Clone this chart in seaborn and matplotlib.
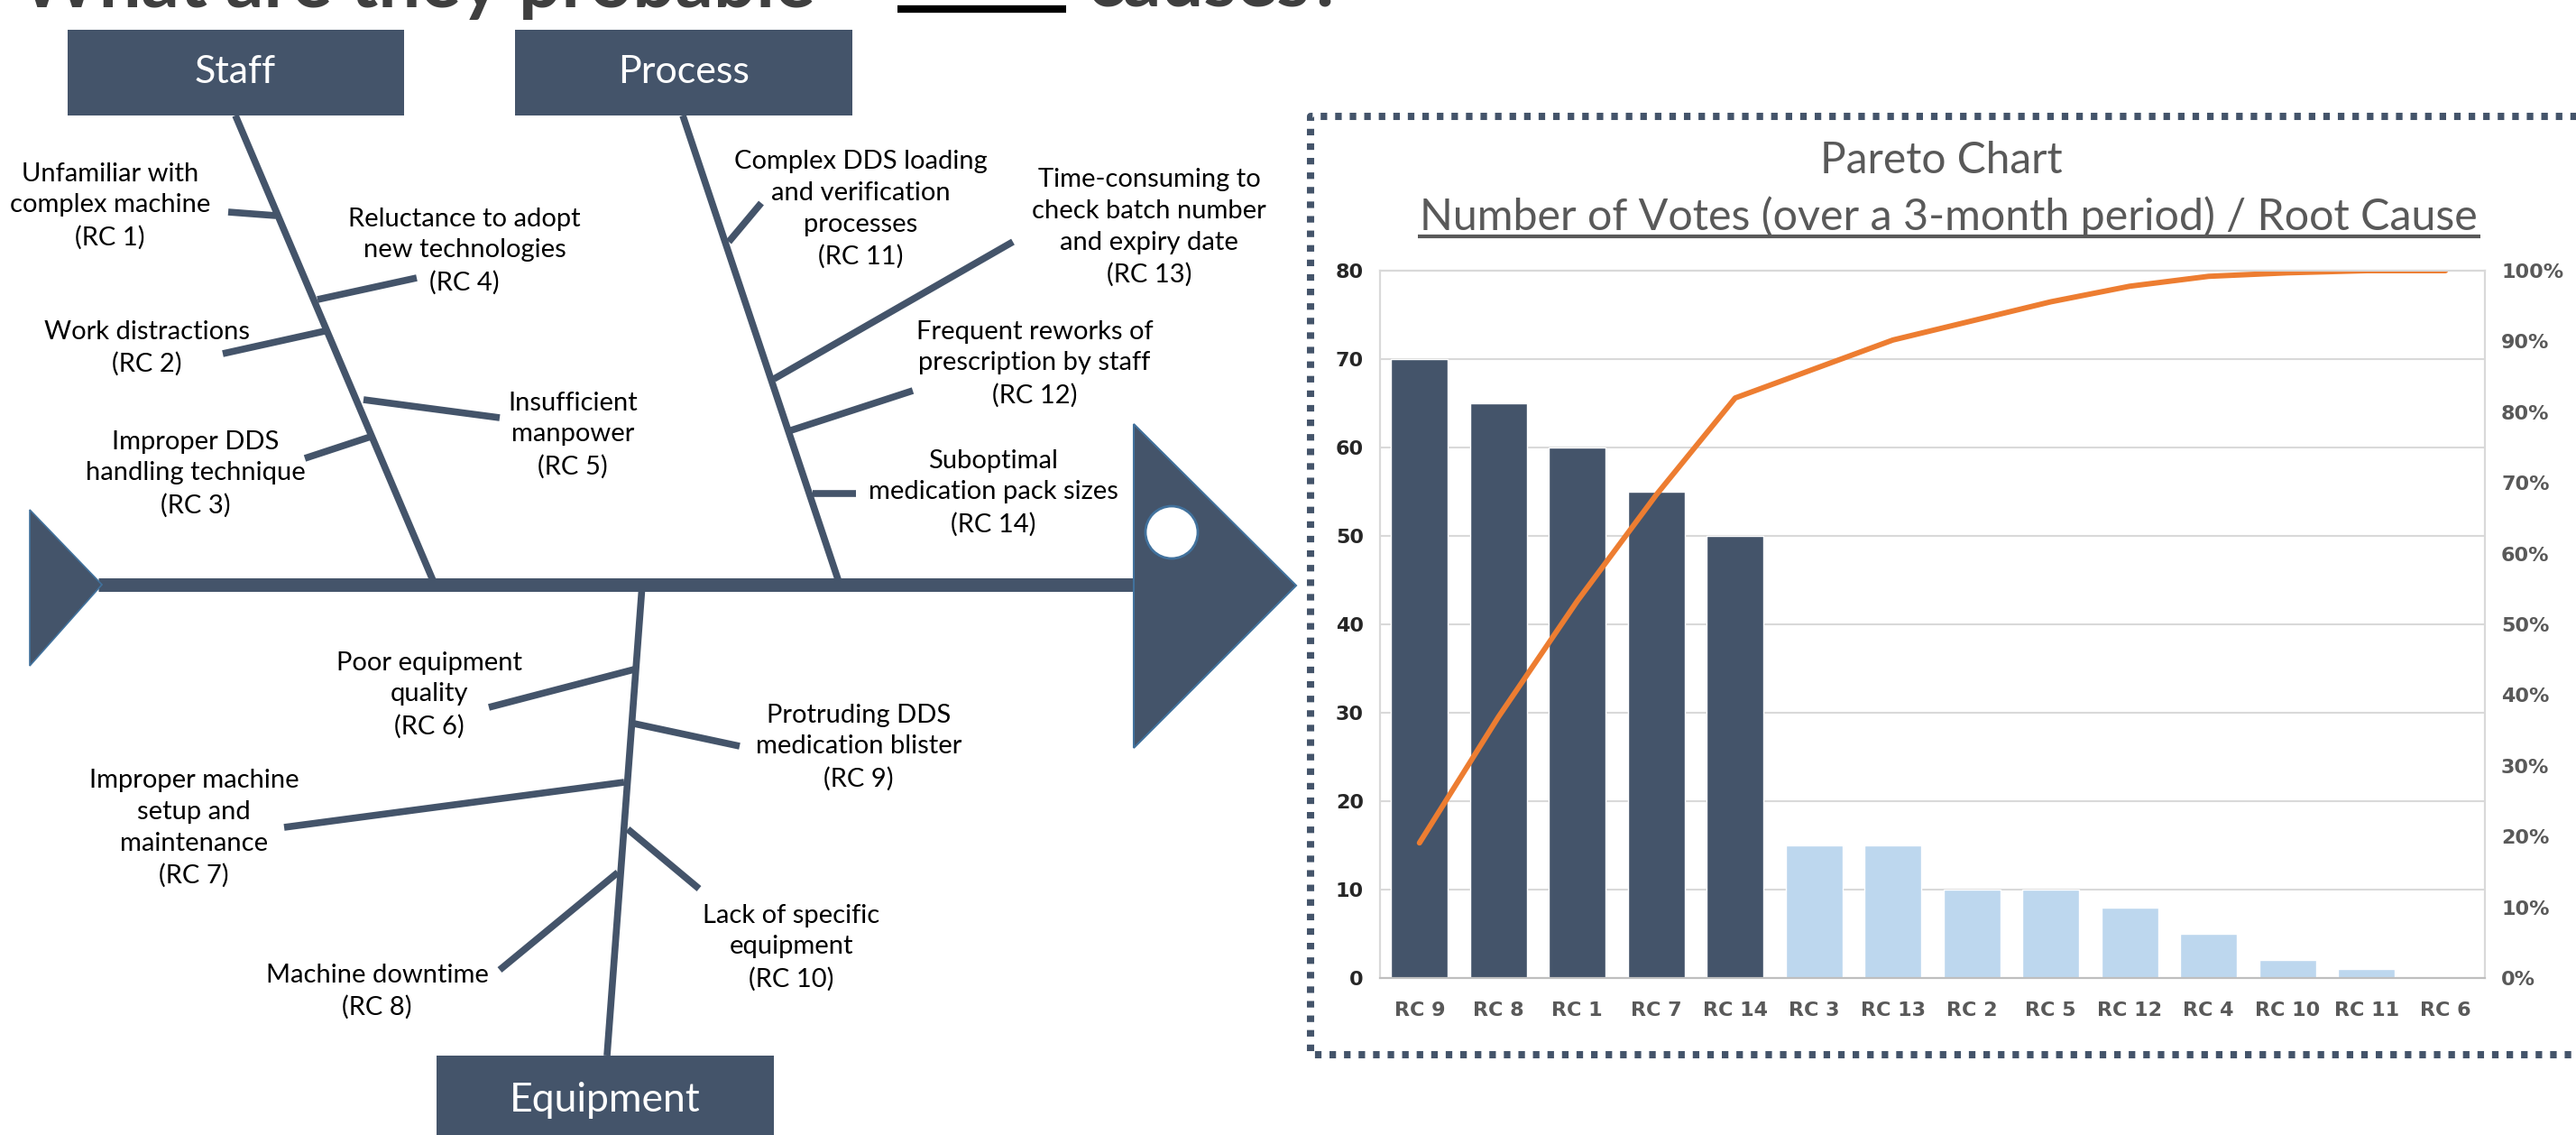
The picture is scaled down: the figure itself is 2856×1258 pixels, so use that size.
import numpy as np
import pandas as pd
import matplotlib
matplotlib.use("Agg")
import matplotlib.pyplot as plt
import seaborn as sns
from matplotlib.patches import Polygon, Circle, Rectangle

# ---------------- data ----------------
causes = ["RC 9", "RC 8", "RC 1", "RC 7", "RC 14", "RC 3", "RC 13",
          "RC 2", "RC 5", "RC 12", "RC 4", "RC 10", "RC 11", "RC 6"]
votes = [70, 65, 60, 55, 50, 15, 15, 10, 10, 8, 5, 2, 1, 0]
cum_pct = [19.1, 36.9, 53.3, 68.3, 82.0, 86.1, 90.2, 92.9, 95.6, 97.8,
           99.2, 99.7, 100.0, 100.0]
vital_few = ["RC 9", "RC 8", "RC 1", "RC 7", "RC 14"]
count_ticks = [0, 10, 20, 30, 40, 50, 60, 70, 80]
pct_ticks = [0.0, 0.1, 0.2, 0.3, 0.4, 0.5, 0.6, 0.7, 0.8, 0.9, 1.0]
pct_labels = ["0%", "10%", "20%", "30%", "40%", "50%", "60%", "70%", "80%", "90%", "100%"]

category_names = ["Staff", "Process", "Equipment"]
staff_labels = ["Unfamiliar with\ncomplex machine\n(RC 1)",
                "Reluctance to adopt\nnew technologies\n(RC 4)",
                "Work distractions\n(RC 2)",
                "Insufficient\nmanpower\n(RC 5)",
                "Improper DDS\nhandling technique\n(RC 3)"]
process_labels = ["Complex DDS loading\nand verification\nprocesses\n(RC 11)",
                  "Time-consuming to\ncheck batch number\nand expiry date\n(RC 13)",
                  "Frequent reworks of\nprescription by staff\n(RC 12)",
                  "Suboptimal\nmedication pack sizes\n(RC 14)"]
equipment_labels = ["Poor equipment\nquality\n(RC 6)",
                    "Protruding DDS\nmedication blister\n(RC 9)",
                    "Improper machine\nsetup and\nmaintenance\n(RC 7)",
                    "Lack of specific\nequipment\n(RC 10)",
                    "Machine downtime\n(RC 8)"]
chart_title = "Pareto Chart"
chart_subtitle = "Number of Votes (over a 3-month period) / Root Cause"
page_title_left = "What are they probable"
page_title_right = "causes?"

# ---------------- layout (pixel space) ----------------
W, H = 2856, 1258
DARK = "#44546A"
LIGHT = "#BDD7EE"
ORANGE = "#ED7D31"
EDGE_BLUE = "#41719C"
GRAY = "#595959"

box_rects = [(75, 33, 373, 95), (571, 33, 374, 95), (484, 1170, 374, 100)]
box_text_xy = [(261, 80), (758, 80), (671, 1220)]
box_font = [31, 31, 32]
bones = [((261, 128), (482, 648)), ((757, 128), (931, 648)), ((712, 648), (673, 1170))]
staff_branches = [((253, 235), (306, 239)), ((352, 332), (462, 308)),
                  ((247, 392), (360, 367)), ((403, 443), (554, 463)),
                  ((338, 508), (411, 484))]
staff_text_xy = [(122, 228), (515, 278), (163, 386), (635, 482), (217, 525)]
process_branches = [((808, 268), (844, 225)), ((858, 420), (1123, 268)),
                    ((877, 477), (1012, 433)), ((901, 547), (949, 547))]
process_text_xy = [(954, 232), (1274, 252), (1147, 403), (1101, 546)]
equip_branches = [((542, 784), (703, 742)), ((703, 802), (820, 827)),
                  ((315, 917), (692, 867)), ((696, 919), (775, 985)),
                  ((554, 1075), (685, 967))]
equip_text_xy = [(476, 770), (952, 828), (215, 918), (877, 1050), (418, 1099)]

sns.set_style("white")
plt.rcParams["font.family"] = ["Lato", "DejaVu Sans"]

fig = plt.figure(figsize=(W / 100, H / 100), dpi=100)
fig.patch.set_facecolor("white")

base = fig.add_axes([0, 0, 1, 1])
base.set_xlim(0, W)
base.set_ylim(H, 0)
base.axis("off")

# page title (cut off at the top, as in the source slide)
base.text(22, 8, page_title_left, fontsize=60, color="#3F3F3F", ha="left",
          va="baseline", fontweight="bold")
base.plot([995, 1182], [10, 10], color="black", lw=6, solid_capstyle="butt")
base.text(1205, 8, page_title_right, fontsize=60, color="#3F3F3F", ha="left",
          va="baseline", fontweight="bold")

# fishbone spine, tail and head
base.plot([109, 1258], [648, 648], color=DARK, lw=10.8, solid_capstyle="butt", zorder=2)
base.add_patch(Polygon([(33, 565), (113, 648), (33, 738)], closed=True,
                       facecolor=DARK, edgecolor=EDGE_BLUE, lw=1.2, zorder=3))
base.add_patch(Polygon([(1257, 470), (1437, 649), (1257, 829)], closed=True,
                       facecolor=DARK, edgecolor=EDGE_BLUE, lw=1.5, zorder=3))
base.add_patch(Circle((1299, 590), 29, facecolor="white", edgecolor=EDGE_BLUE,
                      lw=2, zorder=4))

# category boxes
for (x, y, w, h), (tx, ty), name, fs in zip(box_rects, box_text_xy, category_names, box_font):
    base.add_patch(Rectangle((x, y), w, h, facecolor=DARK, edgecolor="none", zorder=3))
    base.text(tx, ty, name, fontsize=fs, color="white", ha="center", va="center", zorder=4)

# bones
for (p0, p1) in bones:
    base.plot([p0[0], p1[0]], [p0[1], p1[1]], color=DARK, lw=5.5,
              solid_capstyle="butt", zorder=2)

for branches, texts, labels in [(staff_branches, staff_text_xy, staff_labels),
                                (process_branches, process_text_xy, process_labels),
                                (equip_branches, equip_text_xy, equipment_labels)]:
    for (p0, p1), (tx, ty), lab in zip(branches, texts, labels):
        base.plot([p0[0], p1[0]], [p0[1], p1[1]], color=DARK, lw=5.5,
                  solid_capstyle="butt", zorder=2)
        base.text(tx, ty, lab, fontsize=21, color="black", ha="center",
                  va="center", linespacing=1.42, zorder=4)

# dotted frame around the Pareto chart
base.plot([2900, 1453, 1453, 2900], [129, 129, 1169, 1169], color=DARK, lw=5.8,
          linestyle=(0, (0.9, 1.1)), dash_capstyle="butt", solid_capstyle="butt")

# Pareto titles
base.text(2152, 178, chart_title, fontsize=34.5, color=GRAY, ha="center", va="center")
base.text(2160, 240, chart_subtitle, fontsize=34.8, color=GRAY, ha="center", va="center")
base.plot([1572, 2750], [262, 262], color=GRAY, lw=3, solid_capstyle="butt")

# ---------------- Pareto chart ----------------
ax = fig.add_axes([1530 / W, 1 - 1084 / H, 1225 / W, 784 / H])
df = pd.DataFrame({"cause": causes, "votes": votes,
                   "group": ["vital" if c in vital_few else "trivial" for c in causes]})
sns.barplot(data=df, x="cause", y="votes", hue="group", order=causes,
            palette={"vital": DARK, "trivial": LIGHT}, dodge=False, width=0.72,
            saturation=1, legend=False, ax=ax, zorder=2)
ax.set_xlim(-0.5, len(causes) - 0.5)
ax.set_ylim(0, 80)
ax.set_yticks(count_ticks)
ax.set_yticklabels([str(t) for t in count_ticks], fontsize=16, fontweight="bold",
                   color="#262626", family="DejaVu Sans")
ax.set_xticks(range(len(causes)))
ax.set_xticklabels(causes, fontsize=16, fontweight="bold", color=GRAY,
                   family="DejaVu Sans")
ax.tick_params(axis="y", length=0, pad=13)
ax.tick_params(axis="x", length=0, pad=19)
ax.set_xlabel("")
ax.set_ylabel("")
ax.grid(axis="y", color="#D9D9D9", lw=1.5)
ax.grid(axis="x", visible=False)
ax.set_axisbelow(True)
ax.set_facecolor("none")
for s in ax.spines.values():
    s.set_color("#D9D9D9")
    s.set_linewidth(1.5)
ax.spines["bottom"].set_color("#BFBFBF")

ax2 = ax.twinx()
sns.lineplot(x=np.arange(len(causes)), y=np.array(cum_pct) / 100.0, ax=ax2,
             color=ORANGE, lw=4.3, sort=False)
ax2.set_ylim(0, 1)
ax2.set_yticks(pct_ticks)
ax2.set_yticklabels(pct_labels, fontsize=16, fontweight="bold", color=GRAY,
                    family="DejaVu Sans")
ax2.tick_params(axis="y", length=0, pad=13)
ax2.set_ylabel("")
ax2.grid(False)
for s in ax2.spines.values():
    s.set_color("#D9D9D9")
    s.set_linewidth(1.5)
ax2.spines["bottom"].set_color("#BFBFBF")

fig.savefig("out.png", dpi=100, facecolor="white")
